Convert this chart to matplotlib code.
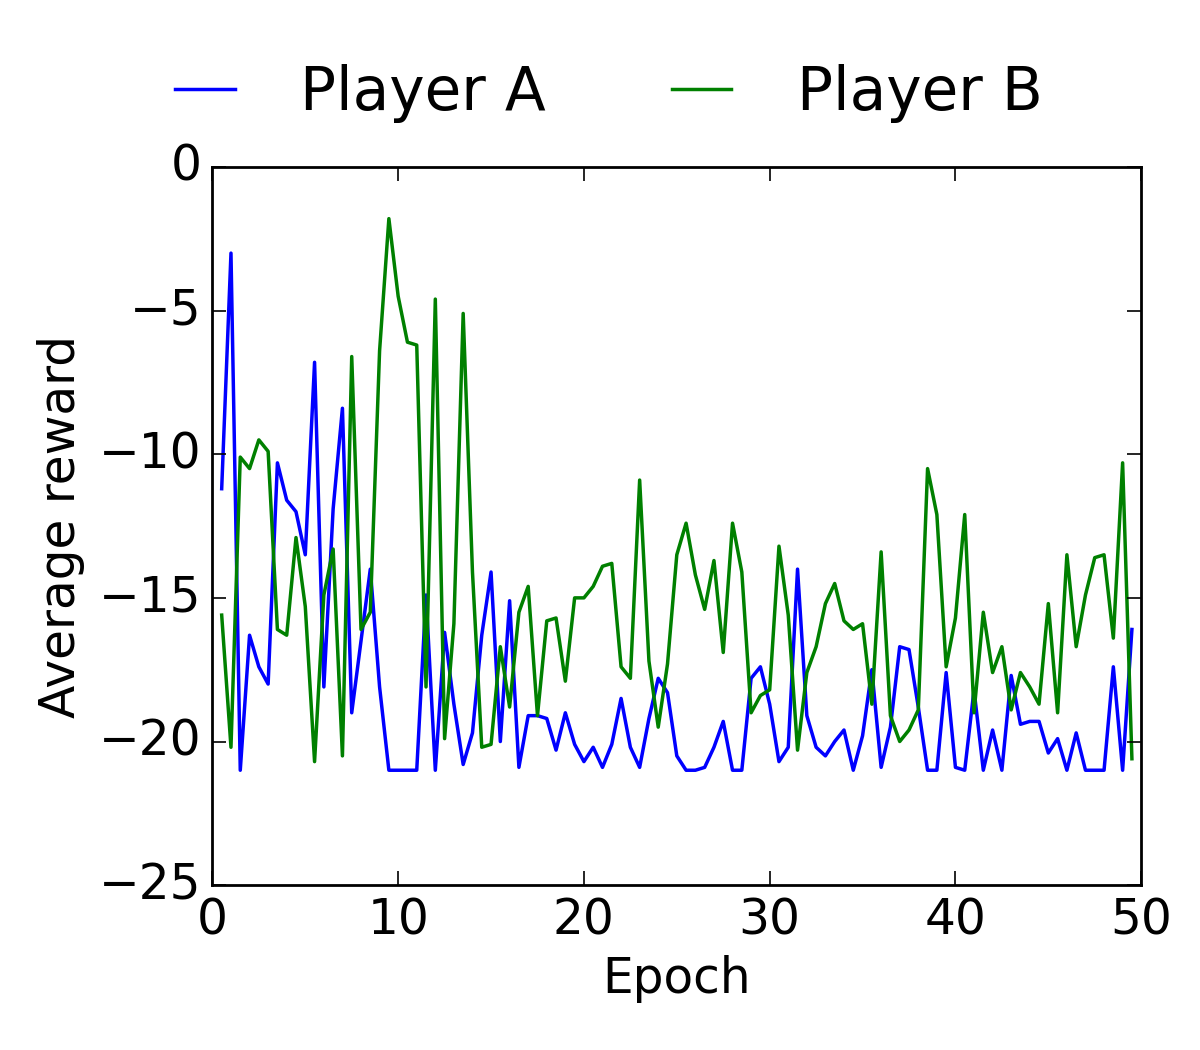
import numpy as np
import matplotlib.pyplot as plt

epoch = np.arange(1, 100) * 0.5

playerA = [-11.2, -3, -21, -16.3, -17.4, -18, -10.3, -11.6, -12, -13.5,
           -6.8, -18.1, -11.9, -8.4, -19, -16.5, -14, -18.1, -21, -21,
           -21, -21, -14.9, -21, -16.2, -18.7, -20.8, -19.7, -16.3, -14.1,
           -20, -15.1, -20.9, -19.1, -19.1, -19.2, -20.3, -19, -20.1, -20.7,
           -20.2, -20.9, -20.1, -18.5, -20.2, -20.9, -19.2, -17.8, -18.3, -20.5,
           -21, -21, -20.9, -20.2, -19.3, -21, -21, -17.8, -17.4, -18.7,
           -20.7, -20.2, -14, -19.1, -20.2, -20.5, -20, -19.6, -21, -19.8,
           -17.5, -20.9, -19.5, -16.7, -16.8, -18.8, -21, -21, -17.6, -20.9,
           -21, -18.2, -21, -19.6, -21, -17.7, -19.4, -19.3, -19.3, -20.4,
           -19.9, -21, -19.7, -21, -21, -21, -17.4, -21, -16.1]

playerB = [-15.6, -20.2, -10.1, -10.5, -9.5, -9.9, -16.1, -16.3, -12.9, -15.3,
           -20.7, -14.9, -13.3, -20.5, -6.6, -16.1, -15.5, -6.4, -1.8, -4.5,
           -6.1, -6.2, -18.1, -4.6, -19.9, -15.9, -5.1, -14.1, -20.2, -20.1,
           -16.7, -18.8, -15.5, -14.6, -19.1, -15.8, -15.7, -17.9, -15, -15,
           -14.6, -13.9, -13.8, -17.4, -17.8, -10.9, -17.2, -19.5, -17.3, -13.5,
           -12.4, -14.2, -15.4, -13.7, -16.9, -12.4, -14.1, -19, -18.4, -18.2,
           -13.2, -15.6, -20.3, -17.6, -16.7, -15.2, -14.5, -15.8, -16.1, -15.9,
           -18.7, -13.4, -19.1, -20, -19.6, -18.9, -10.5, -12.1, -17.4, -15.7,
           -12.1, -19, -15.5, -17.6, -16.7, -18.9, -17.6, -18.1, -18.7, -15.2,
           -19, -13.5, -16.7, -14.9, -13.6, -13.5, -16.4, -10.3, -20.6]

plt.style.use('classic')
fig = plt.figure(figsize=(12, 10.5), dpi=100, facecolor='white')
ax = fig.add_axes([0.177, 0.157, 0.774, 0.684])
ax.plot(epoch, playerA, color='b', lw=2.5, label='Player A')
ax.plot(epoch, playerB, color='g', lw=2.5, label='Player B')
ax.set_xlim(0, 50)
ax.set_ylim(-25, 0)
ax.set_xticks([0, 10, 20, 30, 40, 50])
ax.set_yticks([-25, -20, -15, -10, -5, 0])
ax.tick_params(labelsize=35, length=10, width=1.2, pad=8)
for s in ax.spines.values():
    s.set_linewidth(2)
ax.set_xlabel('Epoch', fontsize=35, labelpad=8)
ax.set_ylabel('Average reward', fontsize=35, labelpad=10)
fig.legend(loc='upper center', bbox_to_anchor=(0.5, 0.99), ncol=2,
           frameon=False, fontsize=43, handlelength=1.6, columnspacing=1.8)
fig.savefig('out.png', dpi=100, facecolor='white')
